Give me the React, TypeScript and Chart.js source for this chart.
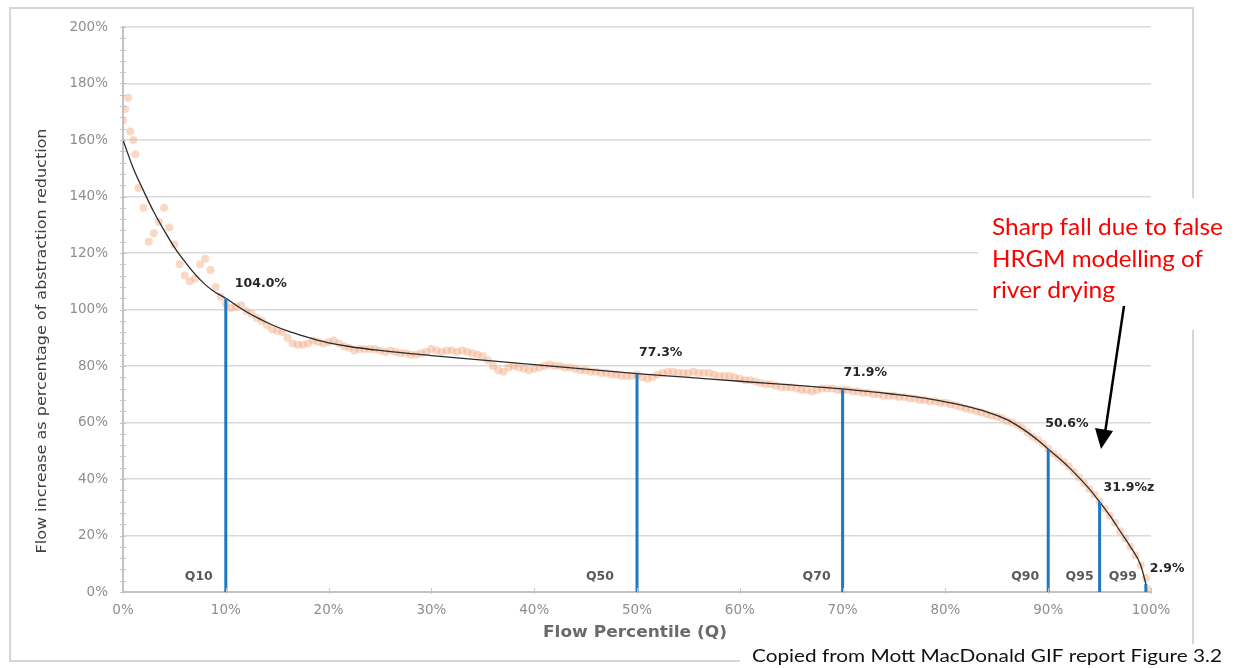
import React, { useEffect, useRef } from "react";
import { Chart, registerables } from "chart.js";

Chart.register(...registerables);

// ---- data ----
const scatterX = [
  0, 0.2, 0.5, 0.7, 1.0, 1.2, 1.5, 2.0, 2.5, 3.0, 3.5, 4.0, 4.5, 5.0, 5.5, 6.0, 6.5, 7.0, 7.5, 8.0, 8.5, 9.0, 9.5,
  10.0, 10.5, 11.0, 11.5, 12.0, 12.5, 13.0, 13.5, 14.0, 14.5, 15.0, 15.5, 16.0, 16.5, 17.0, 17.5, 18.0, 18.5, 19.0, 19.5,
  20.0, 20.5, 21.0, 21.5, 22.0, 22.5, 23.0, 23.5, 24.0, 24.5, 25.0, 25.5, 26.0, 26.5, 27.0, 27.5, 28.0, 28.5, 29.0, 29.5,
  30.0, 30.5, 31.0, 31.5, 32.0, 32.5, 33.0, 33.5, 34.0, 34.5, 35.0, 35.5, 36.0, 36.5, 37.0, 37.5, 38.0, 38.5, 39.0, 39.5,
  40.0, 40.5, 41.0, 41.5, 42.0, 42.5, 43.0, 43.5, 44.0, 44.5, 45.0, 45.5, 46.0, 46.5, 47.0, 47.5, 48.0, 48.5, 49.0, 49.5,
  50.0, 50.5, 51.0, 51.5, 52.0, 52.5, 53.0, 53.5, 54.0, 54.5, 55.0, 55.5, 56.0, 56.5, 57.0, 57.5, 58.0, 58.5, 59.0, 59.5,
  60.0, 60.5, 61.0, 61.5, 62.0, 62.5, 63.0, 63.5, 64.0, 64.5, 65.0, 65.5, 66.0, 66.5, 67.0, 67.5, 68.0, 68.5, 69.0, 69.5,
  70.0, 70.5, 71.0, 71.5, 72.0, 72.5, 73.0, 73.5, 74.0, 74.5, 75.0, 75.5, 76.0, 76.5, 77.0, 77.5, 78.0, 78.5, 79.0, 79.5,
  80.0, 80.5, 81.0, 81.5, 82.0, 82.5, 83.0, 83.5, 84.0, 84.5, 85.0, 85.5, 86.0, 86.5, 87.0, 87.5, 88.0, 88.5, 89.0, 89.5,
  90.0, 90.5, 91.0, 91.5, 92.0, 92.5, 93.0, 93.5, 94.0, 94.5, 95.0, 95.5, 96.0, 96.5, 97.0, 97.5, 98.0, 98.5, 99.0, 99.5,
  100.0,
];
const scatterY = [
  167, 171, 175, 163, 160, 155, 143, 136, 124, 127, 131, 136, 129, 123, 116, 112, 110, 111, 116, 118, 114, 108, 104.5,
  102, 100.5, 101, 101.5, 99.5, 98.5, 97, 96, 94.5, 93, 92.5, 92, 90, 88, 87.5, 87.5, 88, 89, 88.5, 88,
  88.5, 89, 88, 87, 86.5, 85.5, 86, 86, 86, 86, 85.5, 85, 85.5, 85, 84.5, 84.5, 84, 84, 84.5, 85,
  86, 85.5, 85, 85.5, 85.5, 85, 85.5, 85, 84.5, 84, 83.5, 82, 80, 78.5, 78, 79.5, 80, 79.5, 79, 78.5,
  79, 79.5, 80, 80.5, 80, 80, 79.5, 79.5, 79, 78.5, 78.5, 78, 78, 77.5, 77.5, 77, 77, 76.5, 76.5, 76.5,
  77, 76, 75.5, 76, 77, 77.5, 78, 78, 77.5, 77.5, 77.5, 78, 77.5, 77.5, 77.5, 77, 76.5, 76.5, 76.5, 76,
  75.5, 75, 75, 74.5, 74, 73.5, 73.5, 73, 72.5, 72.5, 72.5, 72, 71.5, 71.5, 71, 71.5, 72, 72, 72, 71.5,
  71.5, 71.5, 71, 71, 70.5, 70.5, 70, 70, 69.5, 69.5, 69.5, 69, 69, 68.5, 68.5, 68, 68, 67.5, 67.5, 67,
  67, 66.5, 66, 65.5, 65, 64.5, 64, 63.5, 63, 62.5, 62, 61.5, 60.5, 60, 59, 58, 56.5, 55, 54, 52.5,
  50.8, 49, 47.5, 46, 44.5, 42.5, 40.5, 38.5, 36.5, 34.5, 32, 29.5, 27, 24.5, 21.5, 19, 16, 13, 9.5, 5,
  1,
];

const curveX = [0, 1, 2, 3, 4, 5, 6, 7, 8, 9, 10, 11, 12, 13, 14, 15, 16, 17, 18, 19, 20, 22, 25, 30, 35, 40, 45, 50, 55, 60, 65, 70, 75, 78, 80, 82, 84, 86, 88, 89, 90, 91, 92, 93, 94, 95, 96, 97, 98, 99, 99.5];
const curveY = [160, 150, 142, 134.5, 128, 122, 117, 112.5, 108.8, 106, 104, 101.5, 99.2, 97.2, 95.4, 93.8, 92.4, 91.2, 90.1, 89.1, 88.2, 86.9, 85.5, 83.7, 82.1, 80.5, 78.9, 77.3, 76, 74.6, 73.3, 71.9, 70, 68.6, 67.3, 65.8, 63.8, 61, 56.5, 53.7, 50.6, 47.5, 44.2, 40.5, 36.5, 31.9, 27, 21.5, 16, 9.5, 2.9];

const qNames = ["Q10", "Q50", "Q70", "Q90", "Q95", "Q99"];
const qX = [10, 50, 70, 90, 95, 99.5];
const qValues = [104.0, 77.3, 71.9, 50.6, 31.9, 2.9];
const qValueLabels = ["104.0%", "77.3%", "71.9%", "50.6%", "31.9%z", "2.9%"];

const xTitle = "Flow Percentile (Q)";
const yTitle = "Flow increase as percentage of abstraction reduction";
const noteLines = ["Sharp fall due to false", "HRGM modelling of", "river drying"];
const caption = "Copied from Mott MacDonald GIF report Figure 3.2";

// label placement offsets (pixels) relative to each Q line
const valueLabelDx = [9, 2, 1, -3, 4, 4];
const valueLabelDy = [-14, -21, -16, -25, -14, -15];
const qLabelDx = [-13, -23, -12, -9, -6, -9];

const SANS = "'DejaVu Sans', Verdana, sans-serif";
const CAL = "Lato, 'Open Sans', sans-serif";

function fitText(
  ctx: CanvasRenderingContext2D,
  text: string,
  x: number,
  y: number,
  width: number,
  font: string,
  color: string,
  rotate = 0,
  align: "left" | "center" = "left",
  baseline: CanvasTextBaseline = "alphabetic"
) {
  ctx.save();
  ctx.font = font;
  ctx.fillStyle = color;
  ctx.textAlign = align;
  ctx.textBaseline = baseline;
  const w = ctx.measureText(text).width;
  ctx.translate(x, y);
  if (rotate) ctx.rotate(rotate);
  ctx.scale(width / w, 1);
  ctx.fillText(text, 0, 0);
  ctx.restore();
}

const decor = {
  id: "decor",
  beforeDraw(chart: any) {
    const ctx = chart.ctx as CanvasRenderingContext2D;
    ctx.save();
    ctx.fillStyle = "#ffffff";
    ctx.fillRect(0, 0, chart.width, chart.height);
    ctx.strokeStyle = "#d6d6d6";
    ctx.lineWidth = 2;
    ctx.strokeRect(10, 8, 1183, 653);
    ctx.restore();
  },
  afterDraw(chart: any) {
    const ctx = chart.ctx as CanvasRenderingContext2D;
    const xs = chart.scales.x;
    const ys = chart.scales.y;
    ctx.save();

    // minor ticks on y axis
    ctx.strokeStyle = "#c4c4c4";
    ctx.lineWidth = 1;
    for (let v = 0; v <= 200; v += 4) {
      const py = Math.round(ys.getPixelForValue(v)) + 0.5;
      ctx.beginPath();
      ctx.moveTo(xs.left - 3, py);
      ctx.lineTo(xs.left + 3, py);
      ctx.stroke();
    }
    // ticks on x axis
    for (let v = 0; v <= 100; v += 10) {
      const px = Math.round(xs.getPixelForValue(v)) + 0.5;
      ctx.beginPath();
      ctx.moveTo(px, ys.bottom - 4);
      ctx.lineTo(px, ys.bottom + 2);
      ctx.stroke();
    }

    // value labels and Q labels
    ctx.textBaseline = "middle";
    for (let i = 0; i < qX.length; i++) {
      const px = xs.getPixelForValue(qX[i]);
      const py = ys.getPixelForValue(qValues[i]);
      ctx.font = `bold 12.5px ${SANS}`;
      ctx.fillStyle = "#262626";
      ctx.textAlign = "left";
      ctx.fillText(qValueLabels[i], px + valueLabelDx[i], py + valueLabelDy[i]);
      ctx.font = `bold 12.5px ${SANS}`;
      ctx.fillStyle = "#5a5a5a";
      ctx.textAlign = "right";
      ctx.fillText(qNames[i], px + qLabelDx[i], 577);
    }

    // axis titles
    fitText(ctx, xTitle, 635, 633, 184, `bold 15px ${SANS}`, "#6a6a6a", 0, "center", "middle");
    fitText(ctx, yTitle, 42, 341, 425, `14.5px ${SANS}`, "#404040", -Math.PI / 2, "center", "middle");

    // white boxes of the pasted annotations
    ctx.fillStyle = "#ffffff";
    ctx.fillRect(978, 198, 260, 132);
    ctx.fillRect(740, 644, 498, 24);

    // red note
    const noteW = [231, 211, 123];
    const noteY = [235, 267, 298];
    for (let i = 0; i < noteLines.length; i++) {
      fitText(ctx, noteLines[i], 992, noteY[i], noteW[i], `23px ${CAL}`, "#ff0000");
    }

    // arrow
    ctx.strokeStyle = "#000000";
    ctx.fillStyle = "#000000";
    ctx.lineWidth = 2.5;
    ctx.beginPath();
    ctx.moveTo(1124, 306);
    ctx.lineTo(1105, 433);
    ctx.stroke();
    ctx.beginPath();
    ctx.moveTo(1101, 449);
    ctx.lineTo(1095, 428);
    ctx.lineTo(1113, 431);
    ctx.closePath();
    ctx.fill();

    // caption
    fitText(ctx, caption, 752, 662, 470, `18px ${CAL}`, "#111111");

    ctx.restore();
  },
};

export default function App() {
  const ref = useRef<HTMLCanvasElement | null>(null);
  useEffect(() => {
    if (!ref.current) return;
    const scatterData = scatterX.map((x, i) => ({ x, y: scatterY[i] }));
    const curveData = curveX.map((x, i) => ({ x, y: curveY[i] }));
    const qSets = qX.map((x, i) => ({
      type: "line" as const,
      data: [
        { x, y: 0 },
        { x, y: qValues[i] },
      ],
      borderColor: "#1f78c1",
      borderWidth: 3,
      pointRadius: 0,
      order: 0,
    }));
    const chart = new Chart(ref.current, {
      type: "scatter",
      data: {
        datasets: [
          ...qSets,
          {
            type: "line",
            data: curveData,
            borderColor: "#2b2b2b",
            borderWidth: 1.3,
            pointRadius: 0,
            cubicInterpolationMode: "monotone",
            order: 1,
          } as any,
          {
            type: "scatter",
            data: scatterData,
            pointRadius: 4,
            pointBackgroundColor: "rgba(243,168,128,0.45)",
            pointBorderWidth: 0,
            order: 2,
          },
        ],
      },
      options: {
        animation: false,
        responsive: false,
        devicePixelRatio: 1,
        layout: { padding: { top: 27, right: 87, bottom: 16, left: 0 } },
        plugins: { legend: { display: false }, tooltip: { enabled: false } },
        scales: {
          x: {
            type: "linear",
            min: 0,
            max: 100,
            ticks: {
              stepSize: 10,
              callback: (v: any) => `${v}%`,
              color: "#8e8e8e",
              font: { family: SANS, size: 13.5 },
              padding: 2,
            },
            grid: { display: false },
            border: { display: true, color: "#c2c2c2", width: 2 },
            afterFit: (s: any) => {
              s.height = 60;
            },
          },
          y: {
            min: 0,
            max: 200,
            ticks: {
              stepSize: 20,
              callback: (v: any) => `${v}%`,
              color: "#8e8e8e",
              font: { family: SANS, size: 13.5 },
              padding: 15,
            },
            grid: { color: "#dadada", lineWidth: 1.5, drawTicks: false },
            border: { display: true, color: "#c2c2c2", width: 2 },
            afterFit: (s: any) => {
              s.width = 123;
            },
          },
        },
      },
      plugins: [decor],
    });
    return () => chart.destroy();
  }, []);
  return (
    <div style={{ position: "fixed", left: 0, top: 0, width: 1238, height: 668, background: "#fff" }}>
      <canvas ref={ref} width={1238} height={668} style={{ width: 1238, height: 668, display: "block" }} />
    </div>
  );
}
